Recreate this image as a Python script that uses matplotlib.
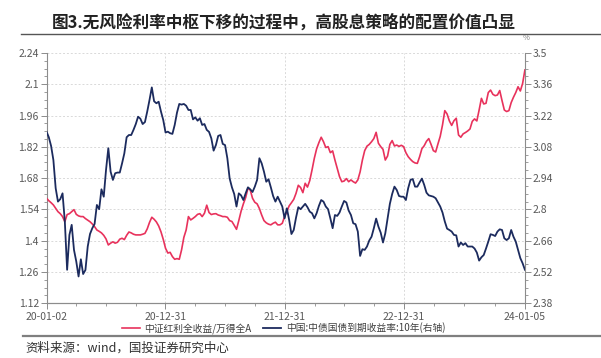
import matplotlib
matplotlib.use('Agg')
import matplotlib.pyplot as plt
import matplotlib.dates as mdates
import numpy as np
import pandas as pd

plt.rcParams['font.family'] = ['Noto Sans CJK SC', 'DejaVu Sans']
plt.rcParams['axes.unicode_minus'] = False

# weekly readings, 2020-01-02 .. 2024-01-05
dates = pd.date_range('2020-01-02', '2024-01-05', periods=210)

dividend_ratio = [
    1.590, 1.579, 1.570, 1.560, 1.545, 1.530, 1.521, 1.508, 1.485, 1.517,
    1.521, 1.530, 1.539, 1.518, 1.511, 1.508, 1.508, 1.499, 1.492, 1.485,
    1.475, 1.463, 1.448, 1.442, 1.435, 1.424, 1.408, 1.381, 1.389, 1.395,
    1.389, 1.393, 1.407, 1.411, 1.405, 1.424, 1.439, 1.435, 1.429, 1.426,
    1.426, 1.426, 1.429, 1.433, 1.453, 1.482, 1.505, 1.496, 1.484, 1.466,
    1.440, 1.406, 1.366, 1.345, 1.348, 1.329, 1.317, 1.320, 1.317, 1.359,
    1.415, 1.448, 1.508, 1.493, 1.500, 1.508, 1.518, 1.521, 1.508, 1.523,
    1.559, 1.526, 1.517, 1.520, 1.521, 1.515, 1.512, 1.508, 1.508, 1.505,
    1.490, 1.486, 1.469, 1.451, 1.490, 1.532, 1.565, 1.593, 1.635, 1.627,
    1.590, 1.572, 1.565, 1.544, 1.515, 1.490, 1.480, 1.474, 1.471, 1.478,
    1.483, 1.471, 1.471, 1.478, 1.508, 1.530, 1.556, 1.570, 1.585, 1.612,
    1.648, 1.638, 1.615, 1.657, 1.640, 1.669, 1.717, 1.769, 1.811, 1.839,
    1.863, 1.843, 1.817, 1.821, 1.794, 1.802, 1.761, 1.724, 1.687, 1.664,
    1.667, 1.678, 1.664, 1.672, 1.664, 1.658, 1.672, 1.708, 1.761, 1.803,
    1.823, 1.831, 1.843, 1.857, 1.885, 1.836, 1.821, 1.809, 1.761, 1.779,
    1.831, 1.848, 1.824, 1.828, 1.822, 1.827, 1.821, 1.794, 1.776, 1.764,
    1.754, 1.748, 1.746, 1.776, 1.812, 1.825, 1.845, 1.857, 1.831, 1.803,
    1.797, 1.833, 1.867, 1.918, 1.982, 1.967, 1.936, 1.916, 1.937, 1.948,
    1.873, 1.863, 1.878, 1.884, 1.891, 1.900, 1.934, 1.945, 1.936, 1.985,
    2.037, 2.012, 2.015, 2.063, 2.074, 2.055, 2.049, 2.052, 2.072, 2.027,
    1.985, 1.978, 1.982, 2.018, 2.042, 2.063, 2.089, 2.070, 2.104, 2.164,
]

bond_10y = [
    3.148, 3.123, 3.084, 3.021, 2.895, 2.835, 2.846, 2.872, 2.746, 2.530,
    2.686, 2.731, 2.619, 2.567, 2.500, 2.577, 2.511, 2.529, 2.634, 2.690,
    2.716, 2.735, 2.820, 2.801, 2.890, 2.857, 2.977, 3.074, 2.969, 2.932,
    2.962, 2.965, 2.965, 3.006, 3.051, 3.123, 3.133, 3.133, 3.156, 3.182,
    3.215, 3.206, 3.182, 3.191, 3.238, 3.290, 3.346, 3.284, 3.275, 3.282,
    3.238, 3.200, 3.144, 3.148, 3.141, 3.138, 3.178, 3.233, 3.272, 3.269,
    3.272, 3.264, 3.245, 3.245, 3.203, 3.212, 3.197, 3.208, 3.178, 3.182,
    3.156, 3.147, 3.118, 3.063, 3.088, 3.129, 3.133, 3.093, 3.088, 3.029,
    2.939, 2.899, 2.869, 2.813, 2.872, 2.863, 2.842, 2.872, 2.899, 2.890,
    2.878, 2.902, 2.932, 3.029, 3.006, 2.969, 2.924, 2.935, 2.899, 2.860,
    2.835, 2.857, 2.835, 2.813, 2.760, 2.805, 2.753, 2.690, 2.708, 2.763,
    2.810, 2.801, 2.813, 2.825, 2.810, 2.790, 2.783, 2.760, 2.783, 2.816,
    2.842, 2.835, 2.813, 2.801, 2.760, 2.716, 2.775, 2.771, 2.786, 2.813,
    2.838, 2.831, 2.795, 2.775, 2.738, 2.734, 2.701, 2.592, 2.622, 2.619,
    2.634, 2.661, 2.678, 2.716, 2.759, 2.723, 2.696, 2.652, 2.693, 2.760,
    2.825, 2.869, 2.902, 2.887, 2.860, 2.857, 2.857, 2.842, 2.895, 2.932,
    2.936, 2.902, 2.902, 2.921, 2.938, 2.910, 2.875, 2.863, 2.860, 2.857,
    2.850, 2.832, 2.813, 2.786, 2.746, 2.714, 2.708, 2.701, 2.686, 2.684,
    2.634, 2.652, 2.641, 2.649, 2.634, 2.634, 2.634, 2.625, 2.607, 2.571,
    2.586, 2.596, 2.625, 2.656, 2.689, 2.686, 2.681, 2.701, 2.711, 2.708,
    2.671, 2.663, 2.671, 2.708, 2.678, 2.656, 2.619, 2.582, 2.559, 2.530,
]

x_ticks = ['2020-01-02', '2020-12-31', '2021-12-31', '2022-12-31', '2024-01-05']
left_ticks = [1.12, 1.26, 1.4, 1.54, 1.68, 1.82, 1.96, 2.1, 2.24]
right_ticks = [2.38, 2.52, 2.66, 2.8, 2.94, 3.08, 3.22, 3.36, 3.5]

red = '#e8325c'
navy = '#1c2b5e'
grey = '#8c8c8c'

fig = plt.figure(figsize=(6.01, 3.58), dpi=100)
ax = fig.add_axes([0.0774, 0.1528, 0.796, 0.6992])
ax2 = ax.twinx()

ax.plot(dates, dividend_ratio, color=red, lw=1.2, label='中证红利全收益/万得全A', zorder=3)
ax2.plot(dates, bond_10y, color=navy, lw=1.3, label='中国:中债国债到期收益率:10年(右轴)')

xt = mdates.date2num(pd.to_datetime(x_ticks))
ax.set_xlim(xt[0], xt[-1])
ax.set_xticks(xt)
ax.set_xticklabels([d[2:] for d in x_ticks])
minor = np.concatenate([np.linspace(a, b, 5)[1:-1] for a, b in zip(xt[:-1], xt[1:])])
ax.set_xticks(minor, minor=True)

ax.set_ylim(1.12, 2.24)
ax.set_yticks(left_ticks)
ax.set_yticklabels([f'{v:g}' for v in left_ticks])
ax.set_yticks(np.arange(1.12, 2.2401, 0.035), minor=True)
ax2.set_ylim(2.38, 3.5)
ax2.set_yticks(right_ticks)
ax2.set_yticklabels([f'{v:g}' for v in right_ticks])
ax2.set_yticks(np.arange(2.38, 3.5001, 0.035), minor=True)

ax.grid(True, which='major', color='#d9d9d9', ls=(0, (2, 2)), lw=0.7)
ax.set_axisbelow(True)

for a in (ax, ax2):
    a.spines['top'].set_visible(False)
    for s in ('left', 'right', 'bottom'):
        a.spines[s].set_color(grey)
        a.spines[s].set_linewidth(0.8)
    a.tick_params(which='major', length=4, width=0.7, color=grey,
                  labelsize=7.5, labelcolor='#595959', pad=1.5)
    a.tick_params(which='minor', length=2.5, width=0.6, color=grey)
ax2.spines['left'].set_visible(False)
ax.spines['right'].set_visible(False)
ax.tick_params(axis='x', pad=2)

fig.text(0.087, 0.936, '图3.无风险利率中枢下移的过程中，高股息策略的配置价值凸显',
         fontsize=12, fontweight='bold', color='#222222', va='center')
fig.add_artist(plt.Line2D([0.035, 1.0], [0.905, 0.905], color='#555555', lw=1.0))
fig.text(0.870, 0.893, '%', fontsize=5.5, color='#808080', va='center')

h1, l1 = ax.get_legend_handles_labels()
h2, l2 = ax2.get_legend_handles_labels()
fig.legend(h1 + h2, l1 + l2, loc='center', bbox_to_anchor=(0.472, 0.084), ncol=2,
           frameon=False, fontsize=7, handlelength=1.8, columnspacing=1.2,
           handletextpad=0.5, labelcolor='#404040')

fig.add_artist(plt.Line2D([0.038, 1.0], [0.061, 0.061], color='#7f7f7f', lw=1.6))
fig.text(0.042, 0.028, '资料来源：wind，国投证券研究中心', fontsize=9,
         style='italic', color='#333333', va='center')

fig.savefig('out.png', dpi=100)
